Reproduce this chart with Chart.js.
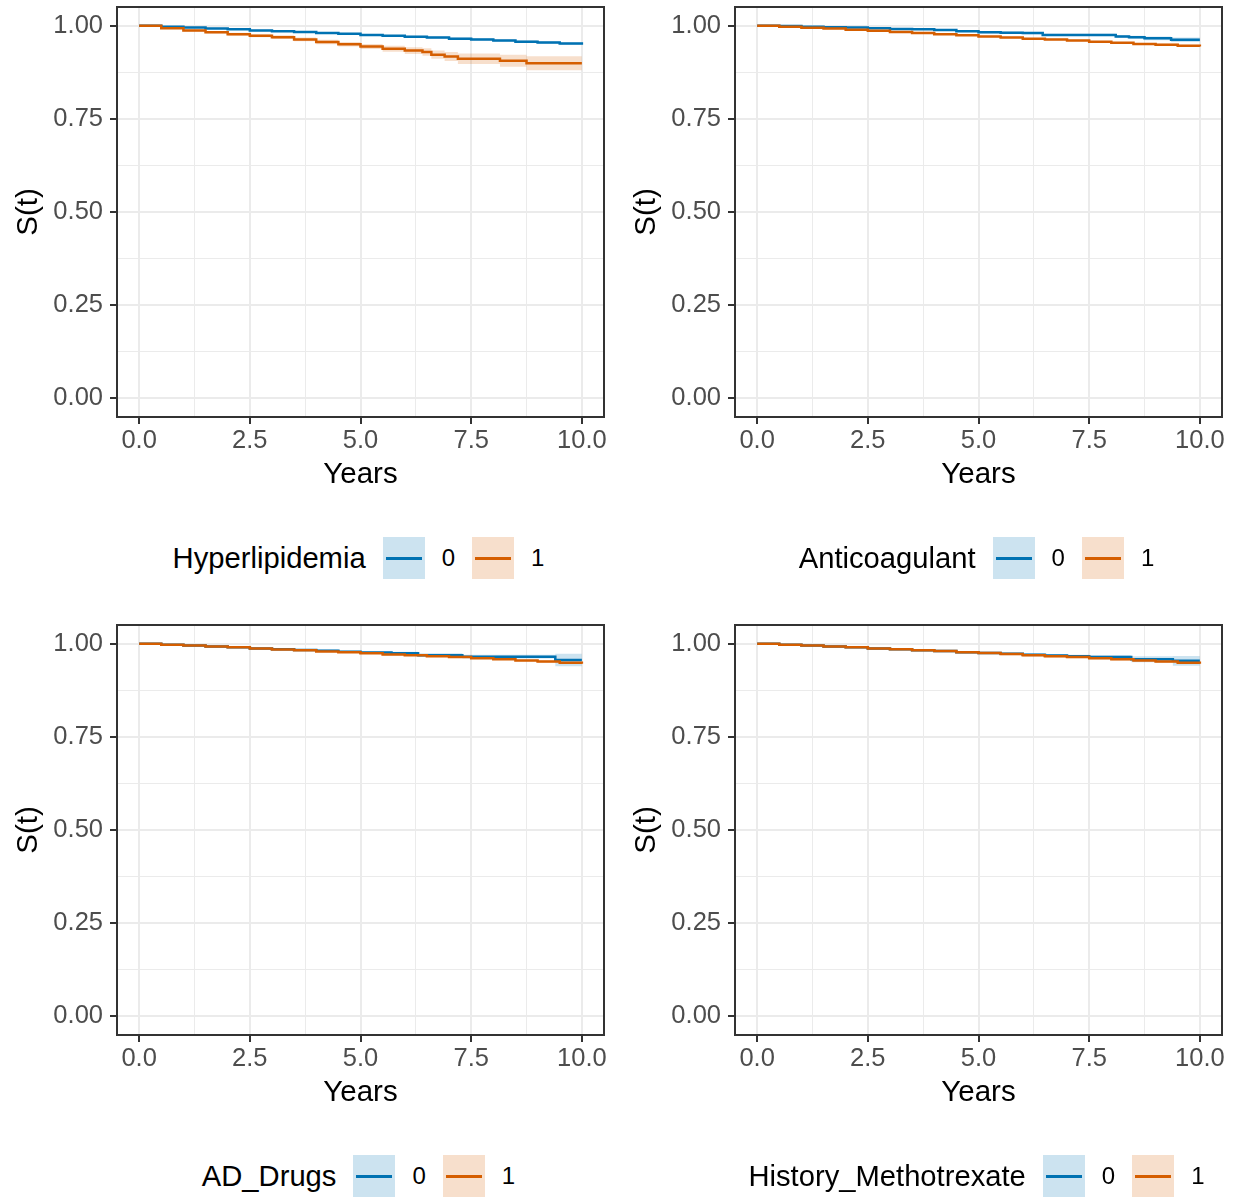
<!DOCTYPE html>
<html>
<head>
<meta charset="utf-8">
<title>Survival curves</title>
<script src="https://cdn.jsdelivr.net/npm/chart.js@4.4.1/dist/chart.umd.min.js"></script>
<style>
  body { margin: 0; background: #fff; font-family: "Liberation Sans", Arial, sans-serif; }
  #page { position: relative; width: 1238px; height: 1198px; overflow: hidden; }
  .panel { position: absolute; width: 620px; height: 618px; }
  .panel canvas { position: absolute; left: 0; top: 0; }
  .legend { position: absolute; left: 0; top: 537px; width: 717px; height: 42px;
            display: flex; align-items: center; justify-content: center; gap: 17px; }
  .legend .title { font-size: 29.2px; color: #000; }
  .legend .key { width: 42px; height: 42px; position: relative; }
  .legend .key i { position: absolute; left: 3px; right: 3px; top: 19.5px; height: 3px; }
  .legend .lab { font-size: 24px; color: #000; }
</style>
</head>
<body>
<div id="page"></div>
<script>
/* Kaplan-Meier curves, four covariates. */

const xMajor = [0, 2.5, 5, 7.5, 10];
const xMinor = [1.25, 3.75, 6.25, 8.75];
const yMajor = [0, 0.25, 0.5, 0.75, 1];
const yMinor = [0.125, 0.375, 0.625, 0.875];
const groups = ["0", "1"];
const titles = ["Hyperlipidemia", "Anticoagulant", "AD_Drugs", "History_Methotrexate"];

const halfYears = [0, 0.5, 1, 1.5, 2, 2.5, 3, 3.5, 4, 4.5, 5, 5.5, 6, 6.5, 7, 7.5, 8, 8.5, 9, 9.5, 10];

// Hyperlipidemia
const hypTime0 = halfYears;
const hypSurv0 = [1.000, 0.997, 0.995, 0.992, 0.990, 0.987, 0.985, 0.983, 0.980, 0.978, 0.975, 0.973, 0.970, 0.968, 0.965, 0.963, 0.960, 0.957, 0.955, 0.952, 0.949];
const hypLow0  = [1.000, 0.996, 0.994, 0.991, 0.988, 0.985, 0.983, 0.981, 0.978, 0.976, 0.973, 0.970, 0.967, 0.965, 0.962, 0.960, 0.957, 0.954, 0.951, 0.948, 0.945];
const hypHigh0 = [1.000, 0.998, 0.996, 0.993, 0.991, 0.989, 0.987, 0.985, 0.982, 0.980, 0.977, 0.975, 0.973, 0.971, 0.968, 0.966, 0.963, 0.961, 0.958, 0.955, 0.953];
const hypTime1 = [0, 0.5, 1, 1.5, 2, 2.5, 3, 3.5, 4, 4.5, 5, 5.5, 6, 6.4, 6.6, 6.9, 7.2, 8.15, 8.75, 10];
const hypSurv1 = [1.000, 0.993, 0.987, 0.982, 0.977, 0.973, 0.969, 0.963, 0.956, 0.950, 0.944, 0.938, 0.933, 0.929, 0.922, 0.917, 0.911, 0.906, 0.899, 0.899];
const hypLow1  = [1.000, 0.991, 0.984, 0.979, 0.973, 0.969, 0.964, 0.958, 0.950, 0.944, 0.937, 0.930, 0.924, 0.919, 0.911, 0.905, 0.897, 0.890, 0.880, 0.880];
const hypHigh1 = [1.000, 0.995, 0.990, 0.985, 0.981, 0.977, 0.974, 0.968, 0.962, 0.956, 0.951, 0.946, 0.942, 0.939, 0.933, 0.929, 0.925, 0.922, 0.918, 0.918];

// Anticoagulant
const antTime0 = [0, 0.5, 1, 1.5, 2, 2.5, 3, 3.5, 4, 4.5, 5, 5.5, 6, 6.45, 8.1, 8.4, 8.75, 9.35, 10];
const antSurv0 = [1.000, 0.999, 0.997, 0.996, 0.995, 0.993, 0.991, 0.990, 0.988, 0.985, 0.982, 0.981, 0.980, 0.975, 0.971, 0.969, 0.966, 0.962, 0.962];
const antLow0  = [1.000, 0.998, 0.996, 0.995, 0.994, 0.991, 0.989, 0.988, 0.986, 0.983, 0.979, 0.978, 0.977, 0.972, 0.967, 0.965, 0.961, 0.956, 0.956];
const antHigh0 = [1.000, 1.000, 0.998, 0.997, 0.996, 0.995, 0.993, 0.992, 0.990, 0.987, 0.985, 0.984, 0.983, 0.978, 0.975, 0.973, 0.971, 0.968, 0.968];
const antTime1 = halfYears;
const antSurv1 = [1.000, 0.997, 0.994, 0.992, 0.989, 0.986, 0.983, 0.980, 0.977, 0.974, 0.971, 0.968, 0.965, 0.963, 0.960, 0.957, 0.954, 0.951, 0.949, 0.946, 0.944];
const antLow1  = [1.000, 0.996, 0.993, 0.991, 0.988, 0.985, 0.982, 0.979, 0.975, 0.972, 0.969, 0.966, 0.963, 0.961, 0.958, 0.955, 0.952, 0.949, 0.946, 0.943, 0.941];
const antHigh1 = [1.000, 0.998, 0.995, 0.993, 0.990, 0.987, 0.984, 0.981, 0.979, 0.976, 0.973, 0.970, 0.967, 0.965, 0.962, 0.959, 0.956, 0.953, 0.952, 0.949, 0.947];

// AD_Drugs
const adTime0 = [0, 0.5, 1, 1.5, 2, 2.5, 3, 3.5, 4, 4.5, 5, 5.7, 6.3, 7.3, 9.4, 10];
const adSurv0 = [1.000, 0.997, 0.995, 0.992, 0.990, 0.987, 0.985, 0.983, 0.981, 0.978, 0.976, 0.974, 0.969, 0.965, 0.956, 0.956];
const adLow0  = [1.000, 0.996, 0.994, 0.991, 0.988, 0.985, 0.983, 0.981, 0.978, 0.975, 0.973, 0.970, 0.964, 0.960, 0.939, 0.939];
const adHigh0 = [1.000, 0.998, 0.996, 0.993, 0.992, 0.989, 0.987, 0.985, 0.984, 0.981, 0.979, 0.978, 0.974, 0.970, 0.973, 0.973];
const adTime1 = halfYears;
const adSurv1 = [1.000, 0.997, 0.995, 0.992, 0.990, 0.987, 0.984, 0.982, 0.979, 0.977, 0.974, 0.971, 0.969, 0.966, 0.964, 0.961, 0.958, 0.955, 0.952, 0.949, 0.946];
const adLow1  = [1.000, 0.996, 0.994, 0.991, 0.989, 0.986, 0.983, 0.981, 0.978, 0.975, 0.972, 0.969, 0.967, 0.964, 0.962, 0.959, 0.956, 0.953, 0.949, 0.946, 0.943];
const adHigh1 = [1.000, 0.998, 0.996, 0.993, 0.991, 0.988, 0.985, 0.983, 0.980, 0.979, 0.976, 0.973, 0.971, 0.968, 0.966, 0.963, 0.960, 0.957, 0.955, 0.952, 0.949];

// History_Methotrexate
const mtxTime0 = [0, 0.5, 1, 1.5, 2, 2.5, 3, 3.5, 4, 4.5, 5, 5.5, 6, 6.5, 7, 7.5, 8.45, 9.39, 10];
const mtxSurv0 = [1.000, 0.997, 0.995, 0.992, 0.990, 0.987, 0.985, 0.982, 0.980, 0.977, 0.975, 0.973, 0.970, 0.968, 0.966, 0.964, 0.958, 0.954, 0.954];
const mtxLow0  = [1.000, 0.996, 0.994, 0.991, 0.988, 0.985, 0.983, 0.980, 0.977, 0.974, 0.972, 0.970, 0.966, 0.964, 0.962, 0.959, 0.950, 0.941, 0.941];
const mtxHigh0 = [1.000, 0.998, 0.996, 0.993, 0.992, 0.989, 0.987, 0.984, 0.983, 0.980, 0.978, 0.976, 0.974, 0.972, 0.970, 0.969, 0.966, 0.967, 0.967];
const mtxTime1 = halfYears;
const mtxSurv1 = [1.000, 0.997, 0.995, 0.992, 0.990, 0.987, 0.985, 0.982, 0.980, 0.977, 0.975, 0.972, 0.969, 0.966, 0.964, 0.961, 0.958, 0.955, 0.952, 0.949, 0.946];
const mtxLow1  = [1.000, 0.996, 0.994, 0.991, 0.988, 0.985, 0.983, 0.980, 0.977, 0.974, 0.972, 0.969, 0.966, 0.963, 0.961, 0.958, 0.955, 0.952, 0.949, 0.946, 0.943];
const mtxHigh1 = [1.000, 0.998, 0.996, 0.993, 0.992, 0.989, 0.987, 0.984, 0.983, 0.980, 0.978, 0.975, 0.972, 0.969, 0.967, 0.964, 0.961, 0.958, 0.955, 0.952, 0.949];

const BLUE = "#0072B2";
const ORANGE = "#D55E00";
const BLUE_FILL = "rgba(0, 114, 178, 0.2)";
const ORANGE_FILL = "rgba(213, 94, 0, 0.2)";
const FONT = "'Liberation Sans', Arial, sans-serif";

const panels = [
  { title: titles[0], left: 0,   top: 0,
    g0: [hypTime0, hypSurv0, hypLow0, hypHigh0], g1: [hypTime1, hypSurv1, hypLow1, hypHigh1] },
  { title: titles[1], left: 618, top: 0,
    g0: [antTime0, antSurv0, antLow0, antHigh0], g1: [antTime1, antSurv1, antLow1, antHigh1] },
  { title: titles[2], left: 0,   top: 618,
    g0: [adTime0, adSurv0, adLow0, adHigh0], g1: [adTime1, adSurv1, adLow1, adHigh1] },
  { title: titles[3], left: 618, top: 618,
    g0: [mtxTime0, mtxSurv0, mtxLow0, mtxHigh0], g1: [mtxTime1, mtxSurv1, mtxLow1, mtxHigh1] },
];

function pts(t, v) {
  return t.map((x, i) => ({ x, y: v[i] }));
}

function isMajor(list, v) {
  return list.some((m) => Math.abs(m - v) < 1e-9);
}

const panelBorder = {
  id: "panelBorder",
  afterDraw(chart) {
    const { ctx, chartArea: a } = chart;
    ctx.save();
    ctx.strokeStyle = "#333333";
    ctx.lineWidth = 2;
    ctx.strokeRect(a.left, a.top, a.right - a.left, a.bottom - a.top);
    ctx.restore();
  },
};

function axis(major, minor, min, max, digits, text, titlePad, tickPad, fit) {
  return {
    type: "linear",
    min,
    max,
    afterBuildTicks: (s) => {
      s.ticks = major.concat(minor).sort((a, b) => a - b).map((v) => ({ value: v }));
    },
    afterFit: fit,
    border: { display: false },
    ticks: {
      autoSkip: false,
      maxRotation: 0,
      padding: tickPad,
      color: "#4D4D4D",
      font: { family: FONT, size: 25.5 },
      callback: (v) => (isMajor(major, v) ? v.toFixed(digits) : ""),
    },
    grid: {
      color: "#EBEBEB",
      lineWidth: (c) => (c.tick && isMajor(major, c.tick.value) ? 2 : 1),
      tickLength: 7,
      tickWidth: 2,
      tickColor: (c) => (c.tick && isMajor(major, c.tick.value) ? "#333333" : "rgba(0,0,0,0)"),
    },
    title: {
      display: true,
      text,
      color: "#000",
      font: { family: FONT, size: 29.5 },
      padding: titlePad,
    },
  };
}

function lineSet(g, color) {
  return { data: pts(g[0], g[1]), borderColor: color, borderWidth: 2.5, stepped: true, pointRadius: 0, fill: false };
}

function bandSet(t, v, fillColor, fill) {
  return { data: pts(t, v), borderWidth: 0, borderColor: "rgba(0,0,0,0)", backgroundColor: fillColor,
           stepped: true, pointRadius: 0, fill };
}

function makeLegend(box, title) {
  const lg = document.createElement("div");
  lg.className = "legend";
  const t = document.createElement("span");
  t.className = "title";
  t.textContent = title;
  lg.appendChild(t);
  [[BLUE, BLUE_FILL], [ORANGE, ORANGE_FILL]].forEach(([c, f], i) => {
    const k = document.createElement("span");
    k.className = "key";
    k.style.background = f;
    const ln = document.createElement("i");
    ln.style.background = c;
    k.appendChild(ln);
    lg.appendChild(k);
    const lab = document.createElement("span");
    lab.className = "lab";
    lab.textContent = groups[i];
    lg.appendChild(lab);
  });
  box.appendChild(lg);
}

function drawPanel(p) {
  const page = document.getElementById("page");
  const box = document.createElement("div");
  box.className = "panel";
  box.style.left = p.left + "px";
  box.style.top = p.top + "px";
  const canvas = document.createElement("canvas");
  canvas.width = 620;
  canvas.height = 500;
  box.appendChild(canvas);
  page.appendChild(box);

  new Chart(canvas, {
    type: "line",
    data: {
      datasets: [
        lineSet(p.g1, ORANGE),
        lineSet(p.g0, BLUE),
        bandSet(p.g1[0], p.g1[2], ORANGE_FILL, "+1"),
        bandSet(p.g1[0], p.g1[3], ORANGE_FILL, false),
        bandSet(p.g0[0], p.g0[2], BLUE_FILL, "+1"),
        bandSet(p.g0[0], p.g0[3], BLUE_FILL, false),
      ],
    },
    options: {
      responsive: false,
      animation: false,
      devicePixelRatio: 1,
      layout: { padding: { top: 7, right: 16, left: 0, bottom: 0 } },
      plugins: { legend: { display: false }, tooltip: { enabled: false } },
      scales: {
        x: axis(xMajor, xMinor, -0.5, 10.5, 1, "Years", { top: 0, bottom: 7 }, 2, (s) => {
          s.height = 83;
          s.paddingLeft = 0;
          s.paddingRight = 0;
        }),
        y: axis(yMajor, yMinor, -0.05, 1.05, 2, "S(t)", { top: 11, bottom: 0 }, 7, (s) => {
          s.width = 117;
          s.paddingTop = 0;
          s.paddingBottom = 0;
        }),
      },
    },
    plugins: [panelBorder],
  });

  makeLegend(box, p.title);
}

panels.forEach(drawPanel);
</script>
</body>
</html>
